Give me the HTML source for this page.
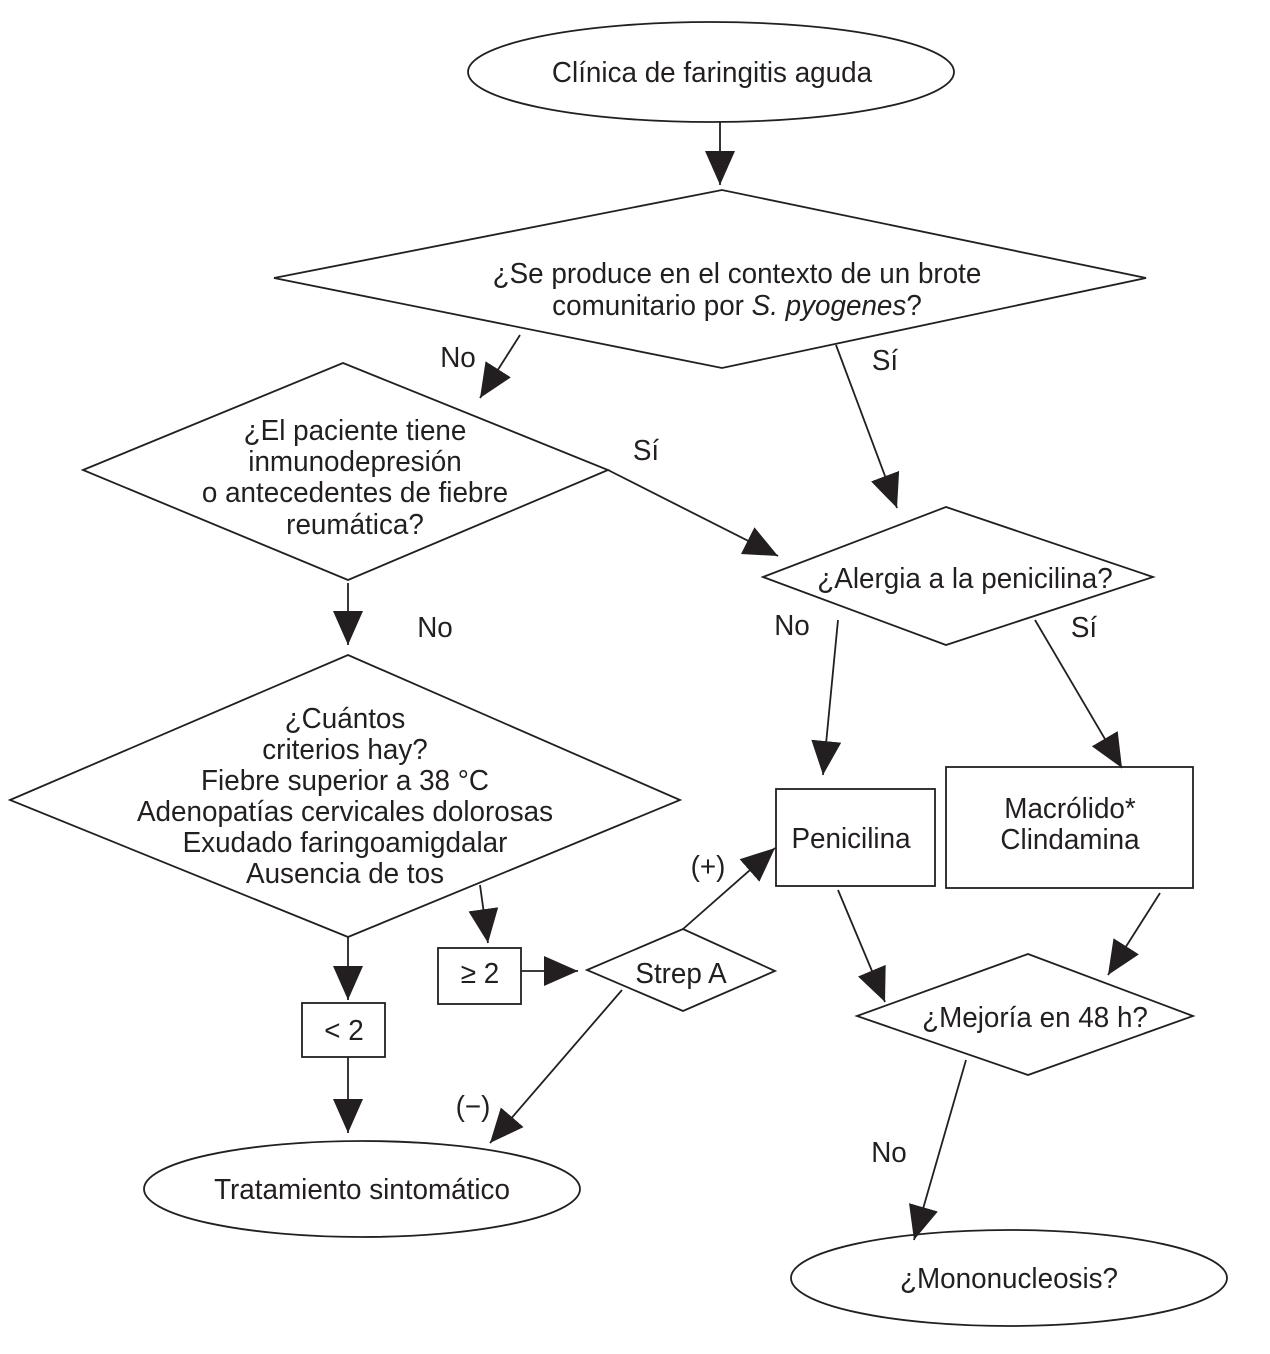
<!DOCTYPE html>
<html><head><meta charset="utf-8"><style>
html,body{margin:0;padding:0;background:#fff}
svg{display:block}
text{font-family:"Liberation Sans Narrow","Liberation Sans",sans-serif;font-size:29px;fill:#231f20}
</style></head><body>
<svg width="1270" height="1354" viewBox="0 0 1270 1354" xmlns="http://www.w3.org/2000/svg">
<defs>
<marker id="a" markerUnits="userSpaceOnUse" markerWidth="36" markerHeight="32" refX="34" refY="15" orient="auto">
<path d="M0,0 L34,15 L0,30 Z" fill="#231f20"/>
</marker>
</defs>
<g fill="none" stroke="#231f20" stroke-width="1.8">
<ellipse cx="711" cy="72" rx="243" ry="50"/>
<polygon points="274,278 722,190 1146,278 722,368"/>
<polygon points="83,470 343,363 608,470 348,580"/>
<polygon points="763,577 946,507 1153,577 946,645"/>
<polygon points="10,800 348,655 680,800 348,937"/>
<rect x="776" y="789" width="159" height="97"/>
<rect x="946" y="767" width="247" height="121"/>
<rect x="302" y="1003" width="83" height="54"/>
<rect x="438" y="948" width="83" height="56"/>
<polygon points="587,970 683,929 775,971 683,1011"/>
<polygon points="857,1016 1028,954 1193,1016 1028,1075"/>
<ellipse cx="362" cy="1189" rx="218" ry="48"/>
<ellipse cx="1009" cy="1278" rx="218" ry="48"/>
</g>
<g stroke="#231f20" stroke-width="1.8" fill="none" marker-end="url(#a)">
<line x1="720" y1="122" x2="720" y2="185"/>
<line x1="520" y1="335" x2="480" y2="398"/>
<line x1="836" y1="345" x2="897" y2="508"/>
<line x1="608" y1="470" x2="778" y2="556"/>
<line x1="348" y1="583" x2="348" y2="645"/>
<line x1="838" y1="620" x2="823" y2="775"/>
<line x1="1035" y1="620" x2="1122" y2="768"/>
<line x1="348" y1="937" x2="348" y2="1000"/>
<line x1="348" y1="1057" x2="348" y2="1133"/>
<line x1="480" y1="885" x2="488" y2="943"/>
<line x1="521" y1="971" x2="578" y2="971"/>
<line x1="683" y1="929" x2="775" y2="848"/>
<line x1="622" y1="990" x2="490" y2="1143"/>
<line x1="838" y1="890" x2="885" y2="1002"/>
<line x1="1160" y1="893" x2="1108" y2="975"/>
<line x1="966" y1="1060" x2="914" y2="1240"/>
</g>
<g text-anchor="middle">
<g transform="translate(712,82) scale(0.96,1)"><text>Clínica de faringitis aguda</text></g>
<g transform="translate(737,283) scale(0.96,1)"><text>¿Se produce en el contexto de un brote</text></g>
<g transform="translate(737,315) scale(0.96,1)"><text>comunitario por <tspan font-style="italic">S. pyogenes</tspan>?</text></g>
<g transform="translate(355,440) scale(0.96,1)"><text>¿El paciente tiene</text></g>
<g transform="translate(355,471) scale(0.96,1)"><text>inmunodepresión</text></g>
<g transform="translate(355,502) scale(0.96,1)"><text>o antecedentes de fiebre</text></g>
<g transform="translate(355,534) scale(0.96,1)"><text>reumática?</text></g>
<g transform="translate(965,588) scale(0.96,1)"><text>¿Alergia a la penicilina?</text></g>
<g transform="translate(345,728) scale(0.96,1)"><text>¿Cuántos</text></g>
<g transform="translate(345,759) scale(0.96,1)"><text>criterios hay?</text></g>
<g transform="translate(345,790) scale(0.96,1)"><text>Fiebre superior a 38 °C</text></g>
<g transform="translate(345,821) scale(0.96,1)"><text>Adenopatías cervicales dolorosas</text></g>
<g transform="translate(345,852) scale(0.96,1)"><text>Exudado faringoamigdalar</text></g>
<g transform="translate(345,883) scale(0.96,1)"><text>Ausencia de tos</text></g>
<g transform="translate(851,848) scale(0.96,1)"><text>Penicilina</text></g>
<g transform="translate(1070,818) scale(0.96,1)"><text>Macrólido*</text></g>
<g transform="translate(1070,849) scale(0.96,1)"><text>Clindamina</text></g>
<g transform="translate(480,983) scale(0.96,1)"><text>≥ 2</text></g>
<g transform="translate(344,1040) scale(0.96,1)"><text>&lt; 2</text></g>
<g transform="translate(681,983) scale(0.96,1)"><text>Strep A</text></g>
<g transform="translate(1035,1027) scale(0.96,1)"><text>¿Mejoría en 48 h?</text></g>
<g transform="translate(362,1199) scale(0.96,1)"><text>Tratamiento sintomático</text></g>
<g transform="translate(1009,1288) scale(0.96,1)"><text>¿Mononucleosis?</text></g>
<g transform="translate(458,367) scale(0.96,1)"><text>No</text></g>
<g transform="translate(885,370) scale(0.96,1)"><text>Sí</text></g>
<g transform="translate(646,460) scale(0.96,1)"><text>Sí</text></g>
<g transform="translate(435,637) scale(0.96,1)"><text>No</text></g>
<g transform="translate(792,635) scale(0.96,1)"><text>No</text></g>
<g transform="translate(1084,637) scale(0.96,1)"><text>Sí</text></g>
<g transform="translate(708,876) scale(0.96,1)"><text>(+)</text></g>
<g transform="translate(473,1116) scale(0.96,1)"><text>(−)</text></g>
<g transform="translate(889,1162) scale(0.96,1)"><text>No</text></g>
</g>
</svg>
</body></html>
